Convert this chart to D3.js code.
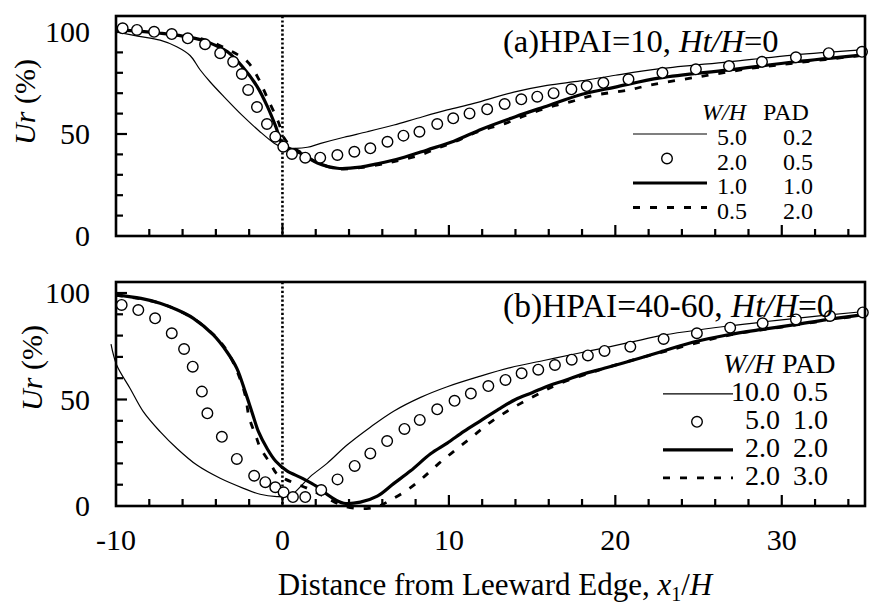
<!DOCTYPE html>
<html><head><meta charset="utf-8">
<script src="https://cdn.jsdelivr.net/npm/d3@7"></script>
<style>
body{margin:0;background:#fff}
svg{display:block}
</style>
</head><body>
<svg id="c" width="869" height="609"></svg>
<script>
// ---------- DATA ----------
const xTicks = [-10, 0, 10, 20, 30];
const yTickLabels = [0, 50, 100];

// Panel (a) HPAI=10
const aWH5_PAD02 = [[-10,100],[-8.7,98],[-7.35,96],[-6.35,92.8],[-5.55,88.5],[-4.95,81.5],[-4.34,75.5],[-3.54,68.5],[-2.4,59],[-1.4,51.5],[-0.5,45.5],[0,43.5],[0.8,43],[1.5,43.5],[2.3,45.4],[3.7,48.4],[5.1,51.1],[6.7,54.4],[8.1,57.7],[9.9,61.8],[11.5,65],[13.9,70.5],[15.9,73.8],[17.9,76],[20,78.8],[22.7,82],[26.8,85.4],[30.7,88.7],[34.8,91.2]];
const aWH2_PAD05 = [[-9.6,101.8],[-8.74,101],[-7.71,100.1],[-6.65,99],[-5.69,96.9],[-4.65,94],[-3.74,89.6],[-2.96,85.4],[-2.44,79.4],[-2.06,71.6],[-1.53,63.2],[-0.93,54.9],[-0.43,48.7],[0.05,43.8],[0.57,40.2],[1.37,38.4],[2.27,38.4],[3.3,39.7],[4.32,41.3],[5.28,43],[6.31,46.2],[7.27,49.2],[8.23,51.1],[9.3,54.9],[10.26,57.7],[11.24,60.1],[12.3,62.1],[13.35,64.7],[14.35,67],[15.31,68.3],[16.29,70],[17.36,71.9],[18.28,73.5],[19.28,75.1],[20.79,76.8],[22.83,80],[24.84,81.7],[26.83,83.3],[28.81,85.4],[30.85,87.6],[32.82,89.6],[34.82,90.3]];
const aWH1_PAD1 = [[-10,101],[-8.5,100.3],[-7.35,99.4],[-6,98],[-4.8,96],[-3.9,93],[-3.3,90.3],[-2.4,83],[-1.5,73],[-0.9,63.4],[-0.4,53.6],[0,45],[0.5,42.5],[1.1,40.5],[2.1,35.8],[3.3,33.2],[4.7,33.8],[5.7,35.4],[7.1,38.1],[8.7,42.2],[10.3,46.5],[12,52.5],[14,58.5],[16,64],[18,69.5],[20,73],[22.7,77.5],[26.8,81.4],[30.8,85.4],[34.8,88.7]];
const aWH05_PAD2 = [[-10,101],[-7.35,99.4],[-4.8,96.5],[-3.3,91.5],[-2.1,85.4],[-1.45,77.3],[-0.9,67.5],[-0.25,56],[0.1,48],[0.6,43.5],[1.1,41],[2.1,36],[3.3,33],[4.7,33.5],[6.3,35.8],[7.3,37.6],[8.3,39.7],[9.3,43],[10.3,46],[11.4,50],[12.4,52.8],[13.4,55.2],[14.4,58.5],[15.4,61.5],[16.4,64],[17.4,66],[18.6,68.8],[20.8,71.6],[22.1,74],[25,78],[28,82],[31,85],[34.8,88.5]];
const aLegendWH = ["5.0", "2.0", "1.0", "0.5"];
const aLegendPAD = ["0.2", "0.5", "1.0", "2.0"];

// Panel (b) HPAI=40-60
const bWH10_PAD05 = [[-10.3,76],[-9.96,66.2],[-9.16,55.3],[-8.36,44.3],[-7.35,34.9],[-6.35,27.1],[-5.14,19.2],[-3.74,13],[-2.34,8.3],[-1.34,5.5],[-0.33,4.4],[0.3,4.5],[0.67,6],[1.67,13.8],[2.68,20],[3.88,28.6],[5.28,37],[6.68,44.5],[8.3,51],[9.9,56],[11.7,60.5],[13.7,65],[15.7,68.3],[17.7,71.6],[19.5,74.5],[21.5,77.9],[22.7,80],[26.8,84.5],[30.7,88],[34.8,91.2]];
const bWH5_PAD1 = [[-9.66,94.4],[-8.66,92],[-7.65,88.1],[-6.65,81.1],[-5.91,73.7],[-5.39,65.4],[-4.84,53.7],[-4.51,43.5],[-3.64,32.5],[-2.74,22.1],[-1.7,14.2],[-1.03,11.2],[-0.43,8.8],[0.07,6.4],[0.63,4.2],[1.37,4.2],[2.33,7.5],[3.31,12.5],[4.34,18.8],[5.28,24.7],[6.29,30.5],[7.33,36.2],[8.25,40.4],[9.3,45.4],[10.34,49.4],[11.32,52.8],[12.37,56.3],[13.4,59.2],[14.37,62.3],[15.37,64],[16.37,66.2],[17.38,68.7],[18.35,70.7],[19.35,72.8],[20.9,74.8],[22.9,78.4],[24.9,81.1],[26.9,83.7],[28.85,85.8],[30.85,87.6],[32.9,89.2],[34.87,90.9]];
const bWH2_PAD2 = [[-10,99],[-8.5,97.5],[-7.35,95.2],[-6.3,92],[-5.35,88.1],[-4.15,80.3],[-3.34,72.4],[-2.74,64.6],[-2.24,53.7],[-1.84,44.3],[-1.44,34.9],[-0.93,27.1],[-0.4,21],[0.27,16.5],[1.2,13],[2.08,9.1],[2.88,4.4],[3.68,1.3],[4.68,1.8],[5.7,4.6],[6.68,10.5],[7.7,16.5],[8.9,24.5],[9.9,29.5],[10.9,35],[11.9,40],[13,45.5],[14,50],[15,53.2],[16,56.5],[17,59],[18,61.8],[19.5,65],[21.5,69.5],[22.7,72.3],[24.7,77],[26.7,80.3],[28.7,82.8],[30.7,85],[32.7,87.5],[34.8,89.7]];
const bWH2_PAD3 = [[-10,99],[-7.35,95.2],[-5.35,88],[-4.15,80.5],[-3.34,73],[-2.74,63.5],[-2.24,52.1],[-2.0,41.5],[-1.6,33],[-1.34,27.5],[-0.73,20],[-0.33,15],[0.2,12.5],[0.8,10.5],[1.5,8.3],[2.5,4.5],[3.5,0.5],[4.4,-1.1],[5.2,-1.1],[5.8,0],[6.5,2.8],[7.4,7],[8.4,13],[9.4,20],[10.4,26.3],[11.4,32.5],[12.4,38.8],[13.5,44.5],[14.5,49],[15.6,53.5],[16.5,57],[18.5,62.5],[19.5,65],[21.5,69.5],[22.7,72],[26.7,80],[30.7,84.8],[34.8,89.5]];
const bLegendWH = ["10.0", "5.0", "2.0", "2.0"];
const bLegendPAD = ["0.5", "1.0", "2.0", "3.0"];

// ---------- DRAW ----------
const FONT = "Liberation Serif";
const svg = d3.select("#c");
const x = d3.scaleLinear().domain([-10, 35]).range([116, 865]);

function txt(sel, xx, yy, size) {
  return sel.append("text").attr("x", xx).attr("y", yy)
    .attr("font-family", FONT).attr("font-size", size).attr("fill", "#000");
}

const styles = {
  thin:  {w:1.2, dash:null},
  thick: {w:3.2, dash:null},
  dash:  {w:2.8, dash:"7,10"}
};

const panels = [
  {top:16, bottom:236, y:d3.scaleLinear().domain([0,100]).range([236,32]),
   lines:[[aWH5_PAD02,"thin"],[aWH1_PAD1,"thick"],[aWH05_PAD2,"dash"]], circles:aWH2_PAD05,
   title:["(a)HPAI=10, ","Ht/H","=0"], titleY:52, titleFs:32.5,
   ylabX:24, ylabY:102,
   leg:{fs:24, headY:120, whX:702, padX:763, rows:[145,169.5,194,218.5], col1End:747, col2X:783,
        lx0:633, lx1:707, cx:667, wh:aLegendWH, pad:aLegendPAD, off:11}},
  {top:282, bottom:506, y:d3.scaleLinear().domain([0,100]).range([506,293]),
   lines:[[bWH10_PAD05,"thin"],[bWH2_PAD2,"thick"],[bWH2_PAD3,"dash"]], circles:bWH5_PAD1,
   title:["(b)HPAI=40-60, ","Ht/H","=0"], titleY:317, titleFs:33.5,
   ylabX:31, ylabY:368,
   leg:{fs:28, headY:373, whX:723, padX:782, rows:[401,429,457,485], col1End:780, col2X:793,
        lx0:663, lx1:733, cx:697, wh:bLegendWH, pad:bLegendPAD, off:6}}
];

panels.forEach(p => {
  const g = svg.append("g");
  const y = p.y;
  const x0 = x.range()[0], x1 = x.range()[1];

  // dotted line at x=0
  g.append("line").attr("x1", x(0)).attr("x2", x(0)).attr("y1", p.top).attr("y2", p.bottom)
    .attr("stroke", "#000").attr("stroke-width", 2.6).attr("stroke-dasharray", "2.2,2.2");

  // ticks x
  d3.range(-8, 35, 2).forEach(v => {
    const L = (v % 10 === 0) ? 11 : 7;
    g.append("line").attr("x1", x(v)).attr("x2", x(v)).attr("y1", p.bottom).attr("y2", p.bottom - L)
      .attr("stroke", "#000").attr("stroke-width", 2.2);
  });
  // ticks y
  d3.range(10, 101, 10).forEach(v => {
    const L = (v % 50 === 0) ? 11 : 7;
    g.append("line").attr("x1", x0).attr("x2", x0 + L).attr("y1", y(v)).attr("y2", y(v))
      .attr("stroke", "#000").attr("stroke-width", 2.2);
  });
  yTickLabels.forEach(v => {
    txt(g, 90, y(v), 30).attr("dy", "0.34em").attr("text-anchor", "end").text(v);
  });

  // lines
  const line = d3.line().x(d => x(d[0])).y(d => y(d[1])).curve(d3.curveCatmullRom.alpha(0.5));
  p.lines.forEach(([data, st]) => {
    const s = styles[st];
    g.append("path").datum(data).attr("d", line).attr("fill", "none")
      .attr("stroke", "#000").attr("stroke-width", s.w)
      .attr("stroke-dasharray", s.dash);
  });
  // circles
  g.selectAll("circle.pt").data(p.circles).join("circle").attr("class", "pt")
    .attr("cx", d => x(d[0])).attr("cy", d => y(d[1])).attr("r", 5.3)
    .attr("fill", "#fff").attr("stroke", "#000").attr("stroke-width", 1.4);

  // frame
  g.append("rect").attr("x", x0).attr("y", p.top).attr("width", x1 - x0).attr("height", p.bottom - p.top)
    .attr("fill", "none").attr("stroke", "#000").attr("stroke-width", 2.6);

  // title
  const t = txt(g, 503, p.titleY, p.titleFs);
  t.append("tspan").text(p.title[0]);
  t.append("tspan").attr("font-style", "italic").text(p.title[1]);
  t.append("tspan").text(p.title[2]);

  // y label
  const yl = g.append("text").attr("transform", `translate(${p.ylabX},${p.ylabY}) rotate(-90)`)
    .attr("font-family", FONT).attr("text-anchor", "middle").attr("dominant-baseline", "central").attr("font-size", 30);
  yl.append("tspan").attr("font-style", "italic").text("Ur");
  yl.append("tspan").text(" (%)");

  // legend
  const L = p.leg;
  txt(g, L.whX, L.headY, L.fs).attr("font-style", "italic").text("W/H");
  txt(g, L.padX, L.headY, L.fs).text("PAD");
  L.rows.forEach((by, i) => {
    txt(g, L.col1End, by, L.fs).attr("text-anchor", "end").text(L.wh[i]);
    txt(g, L.col2X, by, L.fs).text(L.pad[i]);
    const sy = by - L.off - (L.fs - 24) * 0.3;
    if (i === 1) {
      g.append("circle").attr("cx", L.cx).attr("cy", sy).attr("r", 5.3)
        .attr("fill", "#fff").attr("stroke", "#000").attr("stroke-width", 1.4);
    } else {
      const s = styles[i === 0 ? "thin" : (i === 2 ? "thick" : "dash")];
      g.append("line").attr("x1", L.lx0).attr("x2", L.lx1).attr("y1", sy).attr("y2", sy)
        .attr("stroke", "#000").attr("stroke-width", s.w).attr("stroke-dasharray", s.dash);
    }
  });
});

// x tick labels (bottom panel only)
xTicks.forEach(v => {
  txt(svg, x(v), 550, 30).attr("text-anchor", "middle").text(v);
});
// x title
const xt = txt(svg, 495, 595, 31).attr("text-anchor", "middle");
xt.append("tspan").text("Distance from Leeward Edge, ");
xt.append("tspan").attr("font-style", "italic").text("x");
xt.append("tspan").attr("font-size", 20).attr("dy", 6).text("1");
xt.append("tspan").attr("dy", -6).text("/");
xt.append("tspan").attr("font-style", "italic").text("H");
</script>
</body></html>
